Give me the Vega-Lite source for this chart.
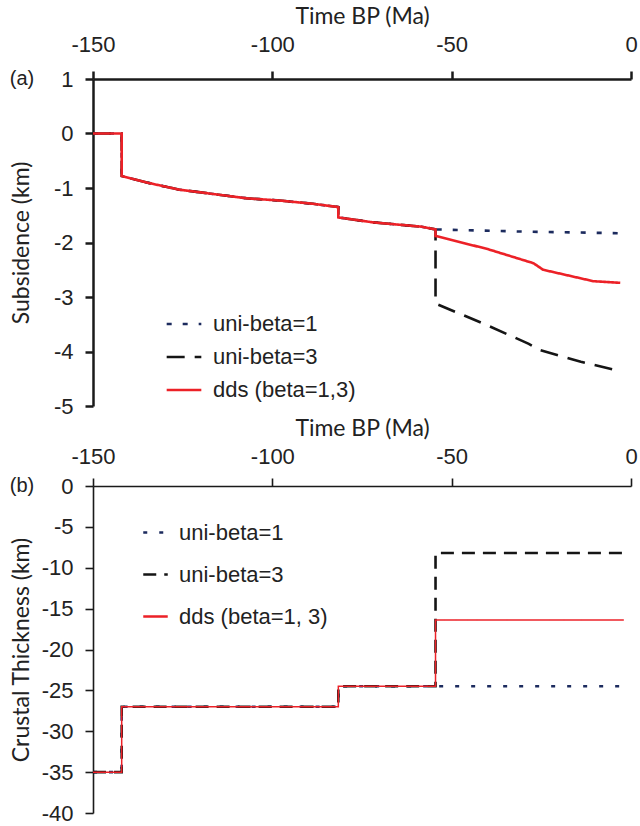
{
  "$schema": "https://vega.github.io/schema/vega-lite/v6.json",
  "padding": {"left": 9, "top": 5, "right": 5, "bottom": 5},
  "spacing": 0,
  "datasets": {
    "sub": [
      {"series": "uni-beta=1", "i": 1, "t": -150, "v": 0},
      {"series": "uni-beta=1", "i": 2, "t": -142, "v": 0},
      {"series": "uni-beta=1", "i": 3, "t": -142, "v": -0.78},
      {"series": "uni-beta=1", "i": 4, "t": -135, "v": -0.9},
      {"series": "uni-beta=1", "i": 5, "t": -126, "v": -1.03},
      {"series": "uni-beta=1", "i": 6, "t": -116.5, "v": -1.11},
      {"series": "uni-beta=1", "i": 7, "t": -107, "v": -1.19},
      {"series": "uni-beta=1", "i": 8, "t": -98, "v": -1.23},
      {"series": "uni-beta=1", "i": 9, "t": -88.6, "v": -1.29},
      {"series": "uni-beta=1", "i": 10, "t": -81.6, "v": -1.35},
      {"series": "uni-beta=1", "i": 11, "t": -81.6, "v": -1.54},
      {"series": "uni-beta=1", "i": 12, "t": -72, "v": -1.63},
      {"series": "uni-beta=1", "i": 13, "t": -58.4, "v": -1.71},
      {"series": "uni-beta=1", "i": 14, "t": -54.5, "v": -1.76},
      {"series": "uni-beta=1", "i": 15, "t": -30, "v": -1.8},
      {"series": "uni-beta=1", "i": 16, "t": -3, "v": -1.83},
      {"series": "uni-beta=3", "i": 1, "t": -150, "v": 0},
      {"series": "uni-beta=3", "i": 2, "t": -142, "v": 0},
      {"series": "uni-beta=3", "i": 3, "t": -142, "v": -0.78},
      {"series": "uni-beta=3", "i": 4, "t": -135, "v": -0.9},
      {"series": "uni-beta=3", "i": 5, "t": -126, "v": -1.03},
      {"series": "uni-beta=3", "i": 6, "t": -116.5, "v": -1.11},
      {"series": "uni-beta=3", "i": 7, "t": -107, "v": -1.19},
      {"series": "uni-beta=3", "i": 8, "t": -98, "v": -1.23},
      {"series": "uni-beta=3", "i": 9, "t": -88.6, "v": -1.29},
      {"series": "uni-beta=3", "i": 10, "t": -81.6, "v": -1.35},
      {"series": "uni-beta=3", "i": 11, "t": -81.6, "v": -1.54},
      {"series": "uni-beta=3", "i": 12, "t": -72, "v": -1.63},
      {"series": "uni-beta=3", "i": 13, "t": -58.4, "v": -1.71},
      {"series": "uni-beta=3", "i": 14, "t": -54.5, "v": -1.76},
      {"series": "uni-beta=3", "i": 15, "t": -54.5, "v": -3.12},
      {"series": "uni-beta=3", "i": 16, "t": -40, "v": -3.52},
      {"series": "uni-beta=3", "i": 17, "t": -28.5, "v": -3.86},
      {"series": "uni-beta=3", "i": 18, "t": -25.5, "v": -3.97},
      {"series": "uni-beta=3", "i": 19, "t": -14, "v": -4.19},
      {"series": "uni-beta=3", "i": 20, "t": -3, "v": -4.36},
      {"series": "dds (beta=1,3)", "i": 1, "t": -150, "v": 0},
      {"series": "dds (beta=1,3)", "i": 2, "t": -142, "v": 0},
      {"series": "dds (beta=1,3)", "i": 3, "t": -142, "v": -0.78},
      {"series": "dds (beta=1,3)", "i": 4, "t": -135, "v": -0.9},
      {"series": "dds (beta=1,3)", "i": 5, "t": -126, "v": -1.03},
      {"series": "dds (beta=1,3)", "i": 6, "t": -116.5, "v": -1.11},
      {"series": "dds (beta=1,3)", "i": 7, "t": -107, "v": -1.19},
      {"series": "dds (beta=1,3)", "i": 8, "t": -98, "v": -1.23},
      {"series": "dds (beta=1,3)", "i": 9, "t": -88.6, "v": -1.29},
      {"series": "dds (beta=1,3)", "i": 10, "t": -81.6, "v": -1.35},
      {"series": "dds (beta=1,3)", "i": 11, "t": -81.6, "v": -1.54},
      {"series": "dds (beta=1,3)", "i": 12, "t": -72, "v": -1.63},
      {"series": "dds (beta=1,3)", "i": 13, "t": -58.4, "v": -1.71},
      {"series": "dds (beta=1,3)", "i": 14, "t": -54.5, "v": -1.76},
      {"series": "dds (beta=1,3)", "i": 15, "t": -54.5, "v": -1.88},
      {"series": "dds (beta=1,3)", "i": 16, "t": -40, "v": -2.12},
      {"series": "dds (beta=1,3)", "i": 17, "t": -27.2, "v": -2.38},
      {"series": "dds (beta=1,3)", "i": 18, "t": -24.5, "v": -2.5},
      {"series": "dds (beta=1,3)", "i": 19, "t": -10.5, "v": -2.71},
      {"series": "dds (beta=1,3)", "i": 20, "t": -3, "v": -2.74}
    ],
    "crust": [
      {"series": "uni-beta=1", "i": 1, "t": -150, "v": -35},
      {"series": "uni-beta=1", "i": 2, "t": -142, "v": -35},
      {"series": "uni-beta=1", "i": 3, "t": -142, "v": -27},
      {"series": "uni-beta=1", "i": 4, "t": -81.6, "v": -27},
      {"series": "uni-beta=1", "i": 5, "t": -81.6, "v": -24.5},
      {"series": "uni-beta=1", "i": 6, "t": -54.5, "v": -24.5},
      {"series": "uni-beta=1", "i": 7, "t": -2, "v": -24.5},
      {"series": "uni-beta=3", "i": 1, "t": -150, "v": -35},
      {"series": "uni-beta=3", "i": 2, "t": -142, "v": -35},
      {"series": "uni-beta=3", "i": 3, "t": -142, "v": -27},
      {"series": "uni-beta=3", "i": 4, "t": -81.6, "v": -27},
      {"series": "uni-beta=3", "i": 5, "t": -81.6, "v": -24.5},
      {"series": "uni-beta=3", "i": 6, "t": -54.5, "v": -24.5},
      {"series": "uni-beta=3", "i": 7, "t": -54.5, "v": -8.2},
      {"series": "uni-beta=3", "i": 8, "t": -2, "v": -8.2},
      {"series": "dds (beta=1, 3)", "i": 1, "t": -150, "v": -35},
      {"series": "dds (beta=1, 3)", "i": 2, "t": -142, "v": -35},
      {"series": "dds (beta=1, 3)", "i": 3, "t": -142, "v": -27},
      {"series": "dds (beta=1, 3)", "i": 4, "t": -81.6, "v": -27},
      {"series": "dds (beta=1, 3)", "i": 5, "t": -81.6, "v": -24.5},
      {"series": "dds (beta=1, 3)", "i": 6, "t": -54.5, "v": -24.5},
      {"series": "dds (beta=1, 3)", "i": 7, "t": -54.5, "v": -16.4},
      {"series": "dds (beta=1, 3)", "i": 8, "t": -2, "v": -16.4}
    ]
  },
  "vconcat": [
    {
      "width": 538,
      "height": 327,
      "layer": [
        {
          "data": {"name": "sub"},
          "mark": {"type": "line", "strokeCap": "butt"},
          "encoding": {
            "x": {"field": "t", "type": "quantitative", "scale": {"domain": [-150, 0], "nice": false},
                  "axis": {"orient": "top", "title": "Time BP (Ma)", "values": [-150, -100, -50, 0], "labelPadding": 15, "titlePadding": 5, "domainWidth": 2.5, "tickWidth": 2.5}},
            "y": {"field": "v", "type": "quantitative", "scale": {"domain": [-5, 1], "nice": false},
                  "axis": {"title": "Subsidence (km)", "values": [-5, -4, -3, -2, -1, 0, 1], "labelPadding": 12, "minExtent": 52, "titlePadding": 8, "domainWidth": 2.5, "tickWidth": 2.5}},
            "order": {"field": "i", "type": "quantitative"},
            "color": {"field": "series", "type": "nominal",
                      "scale": {"domain": ["uni-beta=1", "uni-beta=3", "dds (beta=1,3)"], "range": ["#1c2b5e", "#151515", "#ec2127"]},
                      "legend": {"title": null, "orient": "none", "legendX": 72, "legendY": 226, "rowPadding": 3, "symbolStrokeWidth": 2.5, "symbolSize": 1200}},
            "strokeDash": {"field": "series", "type": "nominal",
                      "scale": {"domain": ["uni-beta=1", "uni-beta=3", "dds (beta=1,3)"], "range": [[5, 11], [18, 10], [1, 0]]},
                      "legend": {"title": null, "orient": "none", "legendX": 72, "legendY": 226, "rowPadding": 3, "symbolStrokeWidth": 2.5, "symbolSize": 1200}},
            "strokeWidth": {"value": 2.6}
          }
        },
        {
          "data": {"values": [{}]},
          "mark": {"type": "text", "font": "Liberation Sans", "fontSize": 20, "align": "center", "baseline": "middle", "dx": -71, "color": "#222", "clip": false},
          "encoding": {"x": {"datum": -150}, "y": {"datum": 1}, "text": {"value": "(a)"}}
        }
      ]
    },
    {
      "width": 538,
      "height": 327,
      "layer": [
        {
          "data": {"name": "crust"},
          "mark": {"type": "line", "strokeCap": "butt"},
          "encoding": {
            "x": {"field": "t", "type": "quantitative", "scale": {"domain": [-150, 0], "nice": false},
                  "axis": {"orient": "top", "title": "Time BP (Ma)", "values": [-150, -100, -50, 0], "labelPadding": 10, "titlePadding": 5, "domainWidth": 1.6, "tickWidth": 1.6}},
            "y": {"field": "v", "type": "quantitative", "scale": {"domain": [-40, 0], "nice": false},
                  "axis": {"title": "Crustal Thickness (km)", "values": [-40, -35, -30, -25, -20, -15, -10, -5, 0], "labelPadding": 12, "minExtent": 52, "titlePadding": 8, "domainWidth": 1.6, "tickWidth": 1.6}},
            "order": {"field": "i", "type": "quantitative"},
            "color": {"field": "series", "type": "nominal",
                      "scale": {"domain": ["uni-beta=1", "uni-beta=3", "dds (beta=1, 3)"], "range": ["#1c2b5e", "#151515", "#ec2127"]},
                      "legend": {"title": null, "orient": "none", "legendX": 49, "legendY": 33, "rowPadding": 17, "symbolStrokeWidth": 2.5, "symbolSize": 600}},
            "strokeDash": {"field": "series", "type": "nominal",
                      "scale": {"domain": ["uni-beta=1", "uni-beta=3", "dds (beta=1, 3)"], "range": [[4, 12], [13, 8], [1, 0]]},
                      "legend": {"title": null, "orient": "none", "legendX": 49, "legendY": 33, "rowPadding": 17, "symbolStrokeWidth": 2.5, "symbolSize": 600}},
            "strokeWidth": {"condition": {"test": "datum.series === 'dds (beta=1, 3)'", "value": 1.5}, "value": 2.6}
          }
        },
        {
          "data": {"values": [{}]},
          "mark": {"type": "text", "font": "Liberation Sans", "fontSize": 20, "align": "center", "baseline": "middle", "dx": -71, "color": "#222", "clip": false},
          "encoding": {"x": {"datum": -150}, "y": {"datum": 0}, "text": {"value": "(b)"}}
        }
      ]
    }
  ],
  "resolve": {"scale": {"color": "independent", "strokeDash": "independent"}},
  "config": {
    "view": {"stroke": null},
    "axis": {
      "grid": false,
      "domainColor": "#1a1a1a",
      "tickColor": "#1a1a1a",
      "tickSize": 8,
      "labelFlush": false,
      "labelFont": "Liberation Sans",
      "labelFontSize": 22,
      "labelColor": "#222",
      "labelExpr": "'' + datum.value",
      "titleFont": "Lato",
      "titleFontSize": 23,
      "titleFontWeight": "normal",
      "titleColor": "#222"
    },
    "legend": {
      "labelFont": "Liberation Sans",
      "labelFontSize": 22,
      "labelColor": "#222",
      "symbolType": "stroke",
      "labelOffset": 10
    }
  }
}
